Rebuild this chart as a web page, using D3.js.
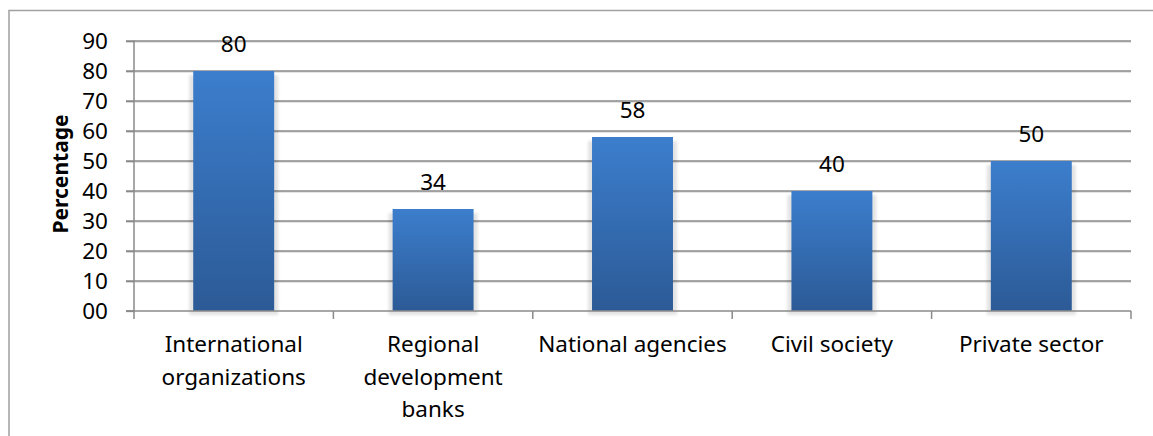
<!DOCTYPE html>
<html>
<head>
<meta charset="utf-8">
<script src="https://cdn.jsdelivr.net/npm/d3@7"></script>
<style>
  html, body { margin: 0; padding: 0; background: #fff; }
  svg { display: block; font-family: "Noto Sans", "Open Sans", sans-serif; }
</style>
</head>
<body>
<svg id="chart" width="1153" height="436"></svg>
<script>
// Share of respondents by type of organization
const categories = ["International organizations", "Regional development banks", "National agencies", "Civil society", "Private sector"];
const categoryLines = [["International", "organizations"], ["Regional", "development", "banks"], ["National agencies"], ["Civil society"], ["Private sector"]];
const values = [80, 34, 58, 40, 50];
const yTicks = [0, 10, 20, 30, 40, 50, 60, 70, 80, 90];
const yTickLabels = ["00", "10", "20", "30", "40", "50", "60", "70", "80", "90"];
const yTitle = "Percentage";

const svg = d3.select("#chart");

const plot = { left: 134, right: 1131, top: 41, bottom: 311 };

const x = d3.scaleBand()
  .domain(categories)
  .range([plot.left, plot.right])
  .paddingInner(0.594)
  .paddingOuter(0.297);

const y = d3.scaleLinear()
  .domain([0, 90])
  .range([plot.bottom, plot.top]);

// Definitions: bar gradient and soft shadow
const defs = svg.append("defs");
const grad = defs.append("linearGradient")
  .attr("id", "barFill")
  .attr("x1", 0).attr("y1", 0).attr("x2", 0).attr("y2", 1);
grad.append("stop").attr("offset", "0%").attr("stop-color", "#3c7ecd");
grad.append("stop").attr("offset", "100%").attr("stop-color", "#2c5a96");

const blur = defs.append("filter").attr("id", "shadowBlur")
  .attr("x", "-20%").attr("y", "-20%").attr("width", "140%").attr("height", "140%");
blur.append("feGaussianBlur").attr("stdDeviation", 1.6);

// Outer chart border
svg.append("rect")
  .attr("x", 9).attr("y", 10.5)
  .attr("width", 1160).attr("height", 440)
  .attr("fill", "none")
  .attr("stroke", "#a0a0a0")
  .attr("stroke-width", 1.5);

// Horizontal gridlines
const grid = svg.append("g");
grid.selectAll("line.shade")
  .data(yTicks.filter(d => d > 0))
  .join("line")
  .attr("class", "shade")
  .attr("x1", plot.left - 8).attr("x2", plot.right)
  .attr("y1", d => y(d) + 1).attr("y2", d => y(d) + 1)
  .attr("stroke", "#c9c9c9").attr("stroke-width", 1);
grid.selectAll("line.main")
  .data(yTicks.filter(d => d > 0))
  .join("line")
  .attr("class", "main")
  .attr("x1", plot.left - 8).attr("x2", plot.right)
  .attr("y1", d => y(d)).attr("y2", d => y(d))
  .attr("stroke", "#8a8a8a").attr("stroke-width", 1.3);

// Bars with shadow
const bars = svg.append("g");
bars.selectAll("rect.shadow")
  .data(values)
  .join("rect")
  .attr("class", "shadow")
  .attr("x", (d, i) => x(categories[i]) - 4)
  .attr("y", d => y(d) + 4)
  .attr("width", x.bandwidth() + 8)
  .attr("height", d => y(0) - y(d))
  .attr("fill", "#000")
  .attr("opacity", 0.11)
  .attr("filter", "url(#shadowBlur)");
bars.selectAll("rect.bar")
  .data(values)
  .join("rect")
  .attr("class", "bar")
  .attr("x", (d, i) => x(categories[i]))
  .attr("y", d => y(d))
  .attr("width", x.bandwidth())
  .attr("height", d => y(0) - y(d))
  .attr("fill", "url(#barFill)");

// Y axis
const yAxis = d3.axisLeft(y)
  .tickValues(yTicks)
  .tickFormat((d, i) => yTickLabels[i])
  .tickSize(8)
  .tickPadding(18);
const gy = svg.append("g")
  .attr("transform", `translate(${plot.left},0)`)
  .call(yAxis);
gy.select(".domain").attr("stroke", "#8a8a8a").attr("stroke-width", 1.5)
  .attr("d", `M-8,${plot.bottom}H0V${plot.top - 0.5}`);
gy.selectAll(".tick line").attr("stroke", "#8a8a8a").attr("stroke-width", 1.3);
gy.selectAll(".tick text")
  .attr("font-size", 22.5)
  .attr("fill", "#000")
  .attr("font-family", "Noto Sans, Open Sans, sans-serif");

// X axis with ticks on category boundaries
const boundaries = d3.range(categories.length + 1).map(i => plot.left + i * x.step());
const gx = svg.append("g");
gx.append("line")
  .attr("x1", plot.left - 8).attr("x2", plot.right)
  .attr("y1", y(0)).attr("y2", y(0))
  .attr("stroke", "#8a8a8a").attr("stroke-width", 1.5);
gx.selectAll("line.tick")
  .data(boundaries)
  .join("line")
  .attr("class", "tick")
  .attr("x1", d => d).attr("x2", d => d)
  .attr("y1", y(0)).attr("y2", y(0) + 8)
  .attr("stroke", "#8a8a8a").attr("stroke-width", 1.5);

// Category labels
const lineGap = 32.5;
gx.selectAll("text.cat")
  .data(categoryLines)
  .join("text")
  .attr("class", "cat")
  .attr("text-anchor", "middle")
  .attr("font-size", 22.5)
  .attr("fill", "#000")
  .each(function(lines, i) {
    const cx = x(categories[i]) + x.bandwidth() / 2;
    d3.select(this).selectAll("tspan")
      .data(lines)
      .join("tspan")
      .attr("x", cx)
      .attr("y", (t, j) => 352 + j * lineGap)
      .text(t => t);
  });

// Value labels above bars
svg.append("g").selectAll("text")
  .data(values)
  .join("text")
  .attr("x", (d, i) => x(categories[i]) + x.bandwidth() / 2)
  .attr("y", d => y(d) - 19)
  .attr("text-anchor", "middle")
  .attr("font-size", 22.5)
  .attr("fill", "#000")
  .text(d => d);

// Y axis title
svg.append("text")
  .attr("transform", `translate(68,174) rotate(-90)`)
  .attr("text-anchor", "middle")
  .attr("font-size", 21)
  .attr("font-weight", "bold")
  .attr("fill", "#000")
  .text(yTitle);
</script>
</body>
</html>
